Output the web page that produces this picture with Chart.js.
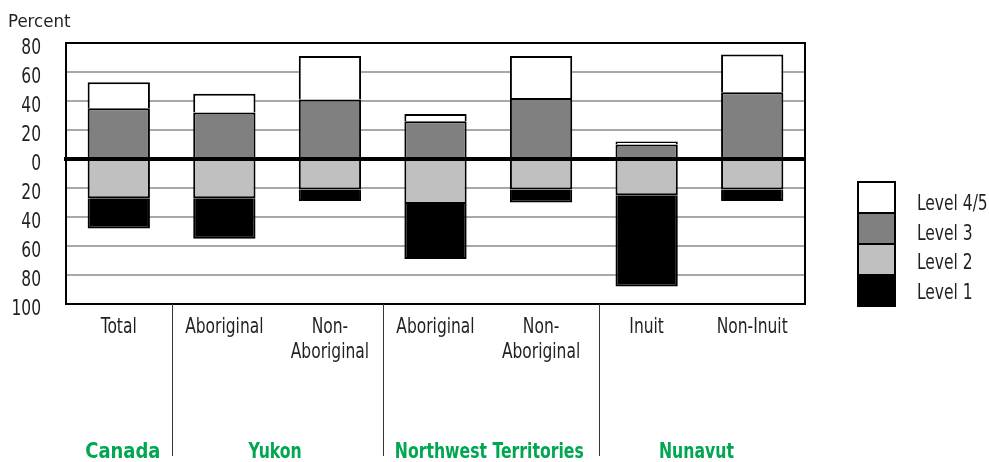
<!DOCTYPE html>
<html>
<head>
<meta charset="utf-8">
<title>Literacy levels by territory</title>
<script src="https://cdn.jsdelivr.net/npm/chart.js@4/dist/chart.umd.min.js"></script>
<style>
    body { margin: 0; background: #fff; }
    canvas { display: block; }
</style>
</head>
<body>
<canvas id="levels-chart" width="989" height="462"></canvas>
<script>
// Data (percent)
const categories = ['Total', 'Aboriginal', ['Non-', 'Aboriginal'], 'Aboriginal', ['Non-', 'Aboriginal'], 'Inuit', 'Non-Inuit'];
const groupNames = ['Canada', 'Yukon', 'Northwest Territories', 'Nunavut'];
const groupSpans = [1, 2, 2, 2];
const level45 = [18, 13, 30, 5, 29, 2, 26];
const level3 = [35, 32, 41, 26, 42, 10, 46];
const level2 = [27, 27, 21, 31, 21, 25, 21];   // drawn below zero
const level1 = [21, 28, 8, 38, 9, 63, 8];      // drawn below zero
const yTicks = [80, 60, 40, 20, 0, -20, -40, -60, -80, -100];

const colors = {
    level45: '#ffffff',
    level3: '#808080',
    level2: '#c0c0c0',
    level1: '#000000',
    grid: '#a8a8a8',
    text: '#231f20',
    green: '#00a651'
};

const fontFamily = "'DejaVu Sans Condensed', 'Liberation Sans', sans-serif";
const regularFont = '21px ' + fontFamily;
const squeeze = 0.82; // reference face is a narrow one
Chart.defaults.font.family = fontFamily;
Chart.defaults.color = colors.text;

function makeSet(label, values, color, negative) {
    return {
        label: label,
        data: values.map(v => negative ? -v : v),
        backgroundColor: color,
        borderColor: '#000',
        borderWidth: 2,
        borderSkipped: 'start',
        barPercentage: 0.59,
        categoryPercentage: 1
    };
}

// draw text squeezed horizontally
function narrowText(ctx, text, x, y, sx) {
    ctx.save();
    ctx.translate(x, y);
    ctx.scale(sx, 1);
    ctx.fillText(text, 0, 0);
    ctx.restore();
}

// Extra drawing: frame, zero line, all labels, separators, legend
const decorations = {
    id: 'decorations',
    afterDatasetsDraw(chart) {
        const ctx = chart.ctx;
        const area = chart.chartArea;
        const x = chart.scales.x;
        const y = chart.scales.y;
        ctx.save();

        // frame
        ctx.strokeStyle = '#000';
        ctx.lineWidth = 2;
        ctx.strokeRect(area.left, area.top, area.right - area.left, area.bottom - area.top);

        // zero line over the bars
        const y0 = Math.round(y.getPixelForValue(0));
        ctx.lineWidth = 4;
        ctx.beginPath();
        ctx.moveTo(area.left - 2, y0);
        ctx.lineTo(area.right + 1, y0);
        ctx.stroke();

        ctx.fillStyle = colors.text;
        ctx.textBaseline = 'alphabetic';

        // axis unit
        ctx.font = '18.5px ' + fontFamily;
        ctx.textAlign = 'left';
        ctx.fillText('Percent', 8, 27);

        // y tick labels (shown without sign)
        ctx.font = regularFont;
        ctx.textAlign = 'right';
        y.ticks.forEach(t => {
            narrowText(ctx, String(Math.abs(t.value)), 41, y.getPixelForValue(t.value) + 11, squeeze);
        });

        // category labels
        ctx.textAlign = 'center';
        categories.forEach((label, i) => {
            const lines = Array.isArray(label) ? label : [label];
            lines.forEach((line, j) => {
                narrowText(ctx, line, x.getPixelForValue(i), 333 + j * 25, squeeze);
            });
        });

        // group separators and names
        const sepShift = [0, 0, 5];
        const nameSqueeze = [0.95, 0.83, 0.83, 0.83];
        const nameShift = [4, -2, 1, -3];
        let idx = 0;
        groupNames.forEach((name, g) => {
            const first = idx;
            const last = idx + groupSpans[g] - 1;
            const cx = (x.getPixelForValue(first) + x.getPixelForValue(last)) / 2;
            ctx.fillStyle = colors.green;
            ctx.font = 'bold 21px ' + fontFamily;
            ctx.textAlign = 'center';
            narrowText(ctx, name, cx + nameShift[g], 458, nameSqueeze[g]);
            if (g < groupNames.length - 1) {
                const sx = Math.round((x.getPixelForValue(last) + x.getPixelForValue(last + 1)) / 2) + sepShift[g] + 0.5;
                ctx.strokeStyle = '#333';
                ctx.lineWidth = 1;
                ctx.beginPath();
                ctx.moveTo(sx, area.bottom);
                ctx.lineTo(sx, 456);
                ctx.stroke();
            }
            idx += groupSpans[g];
        });

        // legend, boxes stacked like the bars
        const order = [1, 0, 2, 3];
        const boxX = 858, boxW = 37, boxH = 31;
        let boxY = 182;
        order.forEach((i, k) => {
            const ds = chart.data.datasets[i];
            ctx.fillStyle = ds.backgroundColor;
            ctx.fillRect(boxX, boxY, boxW, boxH);
            ctx.strokeStyle = '#000';
            ctx.lineWidth = 2;
            ctx.strokeRect(boxX, boxY, boxW, boxH);
            ctx.fillStyle = colors.text;
            ctx.font = regularFont;
            ctx.textAlign = 'left';
            narrowText(ctx, ds.label, 917, 210 + k * 29.5, squeeze);
            boxY += boxH;
        });

        ctx.restore();
    }
};

new Chart(document.getElementById('levels-chart').getContext('2d'), {
    type: 'bar',
    data: {
        labels: categories,
        datasets: [
            makeSet('Level 3', level3, colors.level3, false),
            makeSet('Level 4/5', level45, colors.level45, false),
            makeSet('Level 2', level2, colors.level2, true),
            makeSet('Level 1', level1, colors.level1, true)
        ]
    },
    options: {
        responsive: false,
        animation: false,
        layout: {
            padding: { top: 43, right: 184, bottom: 0, left: 0 }
        },
        plugins: {
            legend: { display: false },
            tooltip: { enabled: false }
        },
        scales: {
            x: {
                stacked: true,
                grid: { display: false, drawTicks: false },
                border: { display: false },
                ticks: { display: false },
                afterFit: function(scale) { scale.height = 158; }
            },
            y: {
                stacked: true,
                min: -100,
                max: 80,
                afterBuildTicks: function(scale) {
                    scale.ticks = yTicks.map(v => ({ value: v }));
                },
                grid: {
                    color: colors.grid,
                    lineWidth: 2,
                    drawTicks: false
                },
                border: { display: false },
                ticks: { display: false },
                afterFit: function(scale) { scale.width = 66; }
            }
        }
    },
    plugins: [decorations]
});
</script>
</body>
</html>
